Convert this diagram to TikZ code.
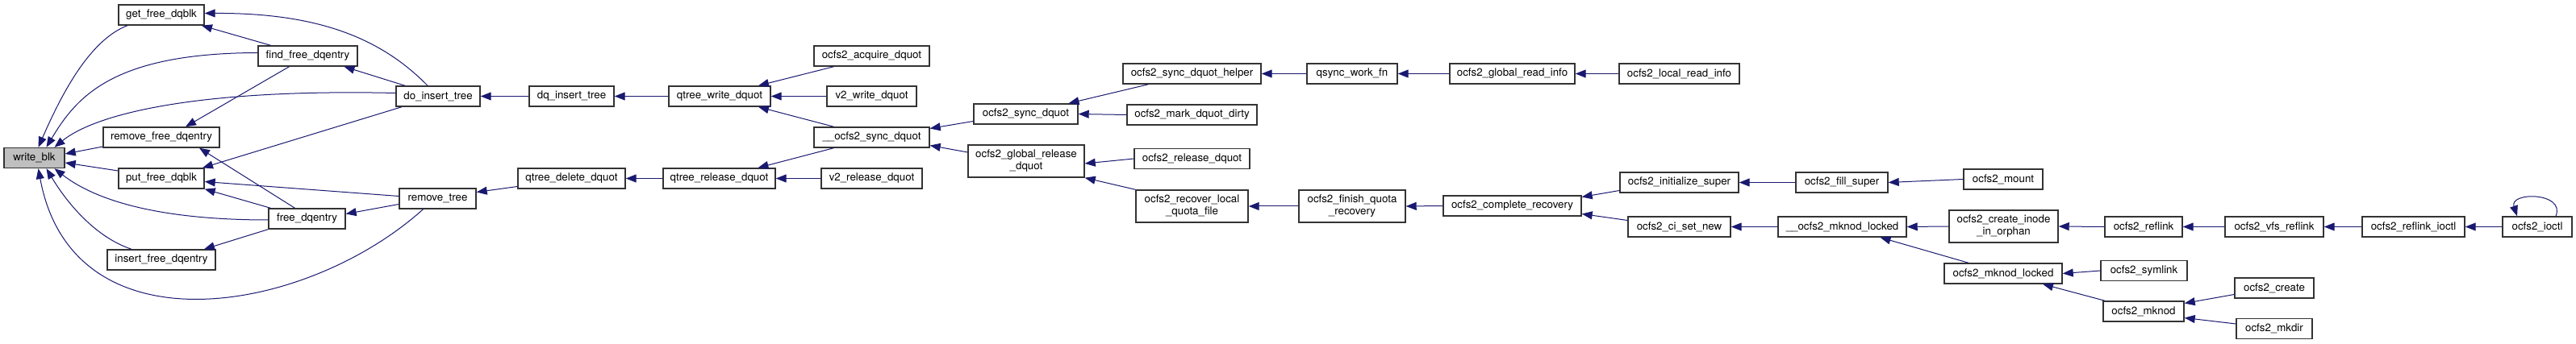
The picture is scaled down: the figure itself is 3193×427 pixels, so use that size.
\documentclass[tikz,border=0pt]{standalone}
\usepackage{fontspec}
\setmainfont{TeX Gyre Heros}
\usetikzlibrary{arrows.meta}
\definecolor{edgecol}{HTML}{191970}
\definecolor{boxcol}{HTML}{333333}
\definecolor{hl}{HTML}{BFBFBF}
\tikzset{
 fn/.style={draw=boxcol, line width=1.4pt, fill=white, inner sep=0pt, minimum height=25pt, font=\fontsize{13.3}{15}\selectfont, align=center},
 fnt/.style={fn, minimum height=40pt},
 edge/.style={draw=edgecol, line width=1pt, -{Triangle[length=13pt,width=10pt]}},
}
\begin{document}
\begin{tikzpicture}[x=1pt,y=-1pt]
\useasboundingbox (0,0) rectangle (3193,427);
% nodes
\node[fn, minimum width=75pt, fill=hl] (wb) at (42.5,196) {write\_blk};
\node[fn, minimum width=106pt] (gfd) at (200,18.5) {get\_free\_dqblk};
\node[fn, minimum width=123pt] (ffd) at (381.5,69.5) {find\_free\_dqentry};
\node[fn, minimum width=144pt] (rfd) at (200,170.5) {remove\_free\_dqentry};
\node[fn, minimum width=106pt] (pfd) at (200,221.5) {put\_free\_dqblk};
\node[fn, minimum width=95pt] (fd) at (380.5,271.5) {free\_dqentry};
\node[fn, minimum width=134pt] (ifd) at (200,322.5) {insert\_free\_dqentry};
\node[fn, minimum width=104pt] (dit) at (543,119.5) {do\_insert\_tree};
\node[fn, minimum width=105pt] (dqit) at (708.5,119.5) {dq\_insert\_tree};
\node[fn, minimum width=95pt] (rt) at (542.5,246.5) {remove\_tree};
\node[fn, minimum width=133pt] (qdd) at (708.5,221.5) {qtree\_delete\_dquot};
\node[fn, minimum width=126pt] (qwd) at (892,119.5) {qtree\_write\_dquot};
\node[fn, minimum width=143pt] (oad) at (1080.5,69.5) {ocfs2\_acquire\_dquot};
\node[fn, minimum width=111pt] (v2w) at (1080.5,119.5) {v2\_write\_dquot};
\node[fn, minimum width=143pt] (osd) at (1080.5,170.5) {\_\_ocfs2\_sync\_dquot};
\node[fn, minimum width=139pt] (qrd) at (891.5,221.5) {qtree\_release\_dquot};
\node[fn, minimum width=125pt] (v2r) at (1080.5,221.5) {v2\_release\_dquot};
\node[fn, minimum width=129pt] (sd) at (1271.5,141.5) {ocfs2\_sync\_dquot};
\node[fn, minimum width=171pt] (sdh) at (1477.5,91.5) {ocfs2\_sync\_dquot\_helper};
\node[fn, minimum width=161pt] (mdd) at (1477.5,142.5) {ocfs2\_mark\_dquot\_dirty};
\node[fnt, minimum width=144pt] (grd) at (1272,200) {ocfs2\_global\_release\\\_dquot};
\node[fn, minimum width=143pt] (rd) at (1477.5,197) {ocfs2\_release\_dquot};
\node[fnt, minimum width=139pt] (rlq) at (1477.5,256) {ocfs2\_recover\_local\\\_quota\_file};
\node[fn, minimum width=112pt] (qwf) at (1676,91.5) {qsync\_work\_fn};
\node[fn, minimum width=155pt] (gri) at (1874.5,91.5) {ocfs2\_global\_read\_info};
\node[fnt, minimum width=132pt] (fqr) at (1676,256) {ocfs2\_finish\_quota\\\_recovery};
\node[fn, minimum width=171pt] (cr) at (1874.5,255.5) {ocfs2\_complete\_recovery};
\node[fn, minimum width=149pt] (lri) at (2081.5,91.5) {ocfs2\_local\_read\_info};
\node[fn, minimum width=147pt] (is) at (2081.5,226.5) {ocfs2\_initialize\_super};
\node[fn, minimum width=127pt] (csn) at (2081.5,281.5) {ocfs2\_ci\_set\_new};
\node[fn, minimum width=114pt] (fs) at (2283,226.5) {ocfs2\_fill\_super};
\node[fn, minimum width=159pt] (uml) at (2283.5,281.5) {\_\_ocfs2\_mknod\_locked};
\node[fn, minimum width=98pt] (mnt) at (2483,222.5) {ocfs2\_mount};
\node[fnt, minimum width=135pt] (cio) at (2483.5,281) {ocfs2\_create\_inode\\\_in\_orphan};
\node[fn, minimum width=146pt] (ml) at (2483,339.5) {ocfs2\_mknod\_locked};
\node[fn, minimum width=96pt] (rf) at (2657,281.5) {ocfs2\_reflink};
\node[fn, minimum width=107pt] (sym) at (2657.5,336) {ocfs2\_symlink};
\node[fn, minimum width=100pt] (mk) at (2657,386.5) {ocfs2\_mknod};
\node[fn, minimum width=122pt] (vr) at (2819,281.5) {ocfs2\_vfs\_reflink};
\node[fn, minimum width=98pt] (cre) at (2819,357.5) {ocfs2\_create};
\node[fn, minimum width=94pt] (mkd) at (2819,408) {ocfs2\_mkdir};
\node[fn, minimum width=127pt] (ri) at (2991.5,281.5) {ocfs2\_reflink\_ioctl};
\node[fn, minimum width=86pt] (ioc) at (3145,281.5) {ocfs2\_ioctl};
% edges into write_blk
\draw[edge] ([xshift=-42pt]gfd.south) .. controls (110,50) and (75,120) .. ([xshift=5pt]wb.north);
\draw[edge] ([yshift=4pt]ffd.west) .. controls (140,66) and (95,120) .. ([xshift=15pt]wb.north);
\draw[edge] ([yshift=4pt]dit.west) .. controls (250,110) and (120,140) .. ([xshift=25pt]wb.north);
\draw[edge] ([yshift=-11.5pt]rfd.west) -- ([yshift=5pt]wb.east);
\draw[edge] ([yshift=9.5pt]pfd.west) -- ([yshift=-6pt]wb.east);
\draw[edge] ([yshift=-1.5pt]fd.west) .. controls (200,273) and (120,250) .. ([xshift=25pt]wb.south);
\draw[edge] ([xshift=-37pt]ifd.north) .. controls (120,295) and (85,255) .. ([xshift=15pt]wb.south);
\draw[edge] ([xshift=-18pt]rt.south) .. controls (380,390) and (90,440) .. ([xshift=5pt]wb.south);
% left cluster
\draw[edge] ([xshift=-46pt]ffd.north) -- ([xshift=50pt]gfd.south);
\draw[edge] ([xshift=-13pt]dit.north) .. controls (470,45) and (390,16) .. ([yshift=2pt]gfd.east);
\draw[edge] ([xshift=-41pt]dit.north) -- ([xshift=45pt]ffd.south);
\draw[edge] ([xshift=-23pt]ffd.south) -- ([xshift=30pt]rfd.north);
\draw[edge] ([xshift=-15pt]fd.north) -- ([xshift=47pt]rfd.south);
\draw[edge] ([xshift=-45pt]dit.south) -- ([xshift=51pt]pfd.north);
\draw[edge] ([yshift=3pt]rt.west) -- ([yshift=-4pt]pfd.east);
\draw[edge] ([xshift=-45pt]fd.north) -- (pfd.south east);
\draw[edge] ([yshift=-7pt]rt.west) -- ([yshift=6pt]fd.east);
\draw[edge] (fd.south west) -- ([xshift=53pt]ifd.north);
% middle
\draw[edge] (dqit.west) -- (dit.east);
\draw[edge] (qwd.west) -- (dqit.east);
\draw[edge] ([yshift=-10pt]qdd.west) -- ([yshift=8pt]rt.east);
\draw[edge] (qrd.west) -- (qdd.east);
\draw[edge] ([xshift=-47pt]oad.south) -- ([xshift=48pt]qwd.north);
\draw[edge] (v2w.west) -- (qwd.east);
\draw[edge] ([xshift=-47pt]osd.north) -- ([xshift=48pt]qwd.south);
\draw[edge] ([xshift=-47pt]osd.south) -- ([xshift=48pt]qrd.north);
\draw[edge] (v2r.west) -- (qrd.east);
\draw[edge] ([yshift=-9pt]sd.west) -- ([yshift=11pt]osd.east);
\draw[edge] ([yshift=11pt]grd.west) -- ([yshift=-10pt]osd.east);
\draw[edge] ([xshift=-54pt]sdh.south) -- ([xshift=53pt]sd.north);
\draw[edge] (mdd.west) -- (sd.east);
\draw[edge] (rd.west) -- ([yshift=-3pt]grd.east);
\draw[edge] (rlq.north west) -- (grd.south east);
\draw[edge] (qwf.west) -- (sdh.east);
\draw[edge] (gri.west) -- (qwf.east);
\draw[edge] (lri.west) -- (gri.east);
\draw[edge] (fqr.west) -- (rlq.east);
\draw[edge] (cr.west) -- (fqr.east);
\draw[edge] ([yshift=-10pt]is.west) -- ([yshift=11pt]cr.east);
\draw[edge] ([yshift=8pt]csn.west) -- ([yshift=-10pt]cr.east);
\draw[edge] (fs.west) -- (is.east);
\draw[edge] (mnt.west) -- (fs.east);
\draw[edge] (uml.west) -- (csn.east);
\draw[edge] (cio.west) -- (uml.east);
\draw[edge] ([xshift=-43pt]ml.north) -- ([xshift=47pt]uml.south);
\draw[edge] (rf.west) -- (cio.east);
\draw[edge] (vr.west) -- (rf.east);
\draw[edge] (ri.west) -- (vr.east);
\draw[edge] (ioc.west) -- (ri.east);
\draw[edge] ([xshift=23pt]ioc.north) .. controls (3180,238) and (3110,238) .. ([xshift=-25pt]ioc.north);
\draw[edge] (sym.west) -- (ml.east);
\draw[edge] ([xshift=-48pt]mk.north) -- ([xshift=49pt]ml.south);
\draw[edge] ([yshift=-8pt]cre.west) -- ([yshift=10pt]mk.east);
\draw[edge] ([yshift=6pt]mkd.west) -- ([yshift=-8pt]mk.east);
\end{tikzpicture}
\end{document}
